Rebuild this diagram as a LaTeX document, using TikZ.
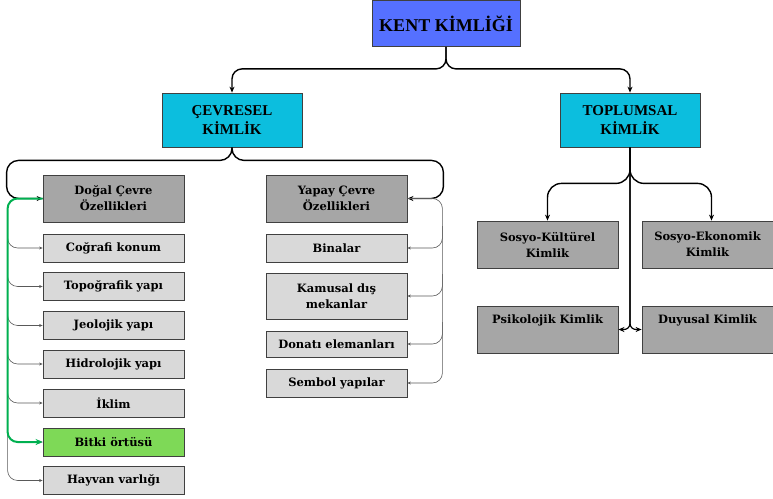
\documentclass[tikz,border=0pt]{standalone}
\usepackage{fontspec}
\setmainfont{Liberation Serif}
\newfontfamily\subfont{DejaVu Serif}
\usetikzlibrary{arrows.meta,calc}
\definecolor{kentblue}{RGB}{85,112,255}
\definecolor{cyanbox}{RGB}{12,190,222}
\definecolor{darkbox}{RGB}{166,166,166}
\definecolor{lightbox}{RGB}{217,217,217}
\definecolor{greenbox}{RGB}{126,217,87}
\definecolor{greenline}{RGB}{0,176,80}
\begin{document}
\begin{tikzpicture}[x=1pt,y=-1pt,
  box/.style={draw=black!75, line width=0.8pt, minimum width=141pt, inner sep=1pt, align=center},
  headbox/.style={box, fill=cyanbox, minimum width=140pt, minimum height=54pt, font=\bfseries\fontsize{15}{19}\selectfont},
  catbox/.style={box, fill=darkbox, minimum height=47pt, font=\subfont\bfseries\fontsize{11.5}{16}\selectfont},
  subbox/.style={box, fill=lightbox, minimum height=28pt, font=\subfont\bfseries\fontsize{11.5}{16}\selectfont},
  conn/.style={line width=1.4pt, rounded corners=10pt, -{Stealth[length=6pt,width=5pt]}},
  thinconn/.style={draw=black!65, line width=0.6pt, rounded corners=10pt, -{Stealth[length=3.5pt,width=3pt]}},
  greenconn/.style={draw=greenline, line width=2pt, rounded corners=10pt, -{Stealth[length=7pt,width=6pt]}}
]
\useasboundingbox (0,0) rectangle (773,498);
% top
\node[box, fill=kentblue, minimum width=148pt, minimum height=46pt, font=\bfseries\fontsize{18}{20}\selectfont] (kent) at (446,23.5) {KENT KİMLİĞİ};
\node[headbox] (cev) at (232,120) {ÇEVRESEL\\KİMLİK};
\node[headbox] (top) at (630,120) {TOPLUMSAL\\KİMLİK};
% left column
\node[catbox] (dogal) at (113.5,198.5) {Doğal Çevre\\Özellikleri};
\node[subbox] (cog) at (113.5,248) {Coğrafi konum};
\node[subbox] (topo) at (113.5,286.5) {Topoğrafik yapı};
\node[subbox] (jeo) at (113.5,325.5) {Jeolojik yapı};
\node[subbox] (hid) at (113.5,364) {Hidrolojik yapı};
\node[subbox] (ikl) at (113.5,403) {İklim};
\node[subbox, fill=greenbox] (bit) at (113.5,442) {Bitki örtüsü};
\node[subbox] (hay) at (113.5,480.5) {Hayvan varlığı};
% middle column
\node[catbox] (yap) at (336.5,198.5) {Yapay Çevre\\Özellikleri};
\node[subbox] (bin) at (336.5,248) {Binalar};
\node[subbox, minimum height=46pt] (kam) at (336.5,296) {Kamusal dış\\mekanlar};
\node[subbox, minimum height=26pt] (don) at (336.5,344) {Donatı elemanları};
\node[subbox] (sem) at (336.5,383) {Sembol yapılar};
% right
\node[catbox] (sk) at (547.5,244.5) {Sosyo-Kültürel\\Kimlik};
\node[catbox, minimum width=131pt] (se) at (707.5,244.5) {Sosyo-Ekonomik\\Kimlik};
\node[catbox] (psi) at (547.5,329.5) {Psikolojik Kimlik\\\strut};
\node[catbox, minimum width=131pt] (duy) at (707.5,329.5) {Duyusal Kimlik\\\strut};
% connectors top
\draw[conn] (kent.south) -- ++(0,22) -| (cev.north);
\draw[conn] (kent.south) -- ++(0,22) -| (top.north);
% cevresel
\draw[conn, rounded corners=12pt] (cev.south) -- ++(0,13) -| ($(dogal.west)+(-36,0)$) -- (dogal.west);
\draw[conn, rounded corners=12pt] (cev.south) -- ++(0,13) -| ($(yap.east)+(36,0)$) -- (yap.east);
% left thin
\draw[thinconn] (dogal.west) -| ($(hay.west)+(-35,0)$) -- (hay.west);
\foreach \b in {cog,topo,jeo,hid,ikl,bit}{
  \draw[thinconn] ($(\b.west)+(-35,-22)$) |- (\b.west);
}
% green
\draw[greenconn] (dogal.west) -| ($(bit.west)+(-35,0)$) -- (bit.west);
% middle thin
\draw[thinconn] (yap.east) -| ($(sem.east)+(35,0)$) -- (sem.east);
\foreach \b in {bin,kam,don}{
  \draw[thinconn] ($(\b.east)+(35,-22)$) |- (\b.east);
}
% toplumsal
\draw[conn, rounded corners=14pt] (top.south) -- ++(0,36) -| (sk.north);
\draw[conn, rounded corners=14pt] (top.south) -- ++(0,36) -| ($(se.north)+(4,0)$);
\draw[conn, rounded corners=6pt, line width=1.2pt] (top.south) |- (psi.east);
\draw[conn, rounded corners=6pt, line width=1.2pt] (top.south) |- (duy.west);
\end{tikzpicture}
\end{document}
